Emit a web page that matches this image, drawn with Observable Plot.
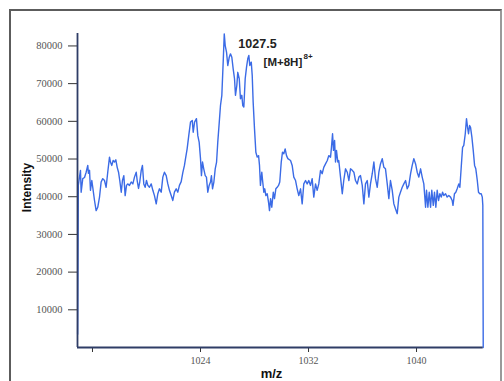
<!DOCTYPE html>
<html>
<head>
<meta charset="utf-8">
<script src="https://cdn.jsdelivr.net/npm/d3@7"></script>
<script src="https://cdn.jsdelivr.net/npm/@observablehq/plot@0.6"></script>
<style>
  html, body { margin: 0; padding: 0; background: #fff; }
  #wrap { position: relative; width: 504px; height: 381px; overflow: hidden; background: #fff; }
  #frame { position: absolute; left: 9px; top: 9px; width: 489px; height: 400px;
           border: 2px solid #5c5c5c; border-right-color: #9a9a9a; pointer-events: none; }
  #chart { position: absolute; left: 0; top: 0; }
  #chart g[aria-label="y-axis tick label"] text,
  #chart g[aria-label="x-axis tick label"] text { font-family: 'Liberation Serif', 'Times New Roman', serif !important; }
  #chart g[aria-label="y-axis tick label"],
  #chart g[aria-label="x-axis tick label"] { font-family: 'Liberation Serif', 'Times New Roman', serif !important; }
</style>
</head>
<body>
<div id="wrap"><div id="chart"></div><div id="frame"></div></div>
<script>
// m/z values (x)
const mz = [
  1014.90,1014.95,1015.11,1015.16,1015.28,1015.41,1015.53,1015.65,1015.70,1015.78,
  1015.85,1015.95,1016.02,1016.15,1016.27,1016.39,1016.52,1016.64,1016.76,1016.89,
  1017.01,1017.13,1017.26,1017.33,1017.43,1017.53,1017.63,1017.73,1017.83,1017.93,
  1018.02,1018.13,1018.22,1018.32,1018.42,1018.52,1018.61,1018.74,1018.87,1018.99,
  1019.11,1019.24,1019.31,1019.41,1019.50,1019.61,1019.70,1019.80,1019.90,1020.00,
  1020.10,1020.22,1020.35,1020.47,1020.59,1020.72,1020.84,1020.96,1021.09,1021.21,
  1021.33,1021.46,1021.58,1021.70,1021.83,1021.95,1022.07,1022.20,1022.32,1022.44,
  1022.57,1022.69,1022.81,1022.89,1023.01,1023.13,1023.26,1023.39,1023.46,1023.56,
  1023.70,1023.80,1023.90,1024.00,1024.07,1024.15,1024.24,1024.35,1024.44,1024.54,
  1024.64,1024.74,1024.81,1024.89,1024.99,1025.09,1025.19,1025.28,1025.39,1025.48,
  1025.58,1025.68,1025.76,1025.83,1025.93,1026.02,1026.13,1026.22,1026.32,1026.42,
  1026.52,1026.59,1026.69,1026.76,1026.87,1026.96,1027.06,1027.13,1027.21,1027.31,
  1027.41,1027.50,1027.58,1027.65,1027.76,1027.83,1027.90,1028.00,1028.10,1028.20,
  1028.30,1028.37,1028.44,1028.54,1028.61,1028.69,1028.76,1028.84,1028.94,1029.04,
  1029.11,1029.19,1029.28,1029.39,1029.48,1029.58,1029.68,1029.78,1029.87,1029.98,
  1030.07,1030.17,1030.27,1030.37,1030.47,1030.67,1030.79,1030.91,1031.04,1031.16,
  1031.28,1031.41,1031.53,1031.65,1031.78,1031.90,1032.02,1032.15,1032.27,1032.39,
  1032.52,1032.64,1032.76,1032.89,1033.01,1033.13,1033.26,1033.39,1033.50,1033.63,
  1033.70,1033.78,1033.85,1033.93,1034.00,1034.07,1034.17,1034.24,1034.37,1034.50,
  1034.61,1034.74,1034.87,1034.99,1035.11,1035.24,1035.36,1035.48,1035.61,1035.73,
  1035.85,1035.98,1036.10,1036.22,1036.35,1036.47,1036.59,1036.72,1036.84,1036.96,
  1037.09,1037.21,1037.33,1037.46,1037.58,1037.70,1037.83,1037.95,1038.07,1038.20,
  1038.32,1038.44,1038.57,1038.69,1038.81,1038.94,1039.06,1039.19,1039.31,1039.43,
  1039.56,1039.68,1039.80,1039.93,1040.05,1040.17,1040.30,1040.42,1040.54,1040.67,
  1040.74,1040.84,1040.94,1041.04,1041.13,1041.24,1041.33,1041.43,1041.53,1041.63,
  1041.73,1041.83,1041.93,1042.02,1042.15,1042.27,1042.39,1042.52,1042.64,1042.70,
  1042.81,1042.91,1043.01,1043.13,1043.21,1043.31,1043.41,1043.50,1043.61,1043.70,
  1043.78,1043.85,1043.93,1044.00,1044.10,1044.20,1044.30,1044.39,1044.50,1044.59,
  1044.69,1044.79,1044.87,1044.91,1044.94
];
// intensity values (y), same order as mz
const intensity = [
  3500,43000,47000,41200,44800,45100,46500,48300,46200,47000,
  41700,44300,42500,39000,36300,37200,39900,43900,44800,44300,
  42500,46500,50500,49200,48300,49600,49200,49800,47800,46500,
  44300,41200,44300,45600,40300,43000,43400,43000,43900,43400,
  45200,46500,44300,42200,43900,47000,48300,43400,42500,44300,
  43000,42500,43400,41700,40300,38100,40800,42100,41200,45200,
  46500,45600,43400,41700,40300,39000,41200,42100,41200,43000,
  44000,46400,48300,50100,52700,56200,59800,60200,57100,59800,
  60700,56200,54500,50100,45600,49200,47400,45600,45200,41200,
  43000,43900,45600,42100,43900,47400,49200,54500,59800,64200,
  66900,75700,83200,80100,78300,74800,77000,77900,77000,73900,
  71300,66900,69500,73000,71300,66000,66900,64200,63800,71300,
  74400,76600,77500,74800,75700,72200,65100,58000,51800,50500,
  50900,48300,43000,46500,43900,41200,42100,40300,40800,38500,
  36300,39500,37200,41200,39500,42100,42500,43000,43900,49200,
  51800,51400,52700,50900,50100,49600,48300,45200,44300,42100,
  40300,42100,38100,43400,44300,43400,44300,43000,44800,39900,
  43400,41700,43400,47000,46100,47800,48700,49600,50900,50500,
  53100,56700,52300,54900,49200,52300,49200,49600,45200,40800,
  44300,47400,46500,44300,47400,47000,46500,44300,43400,45200,
  45600,43000,38100,43400,44300,39900,43400,46100,49200,44800,
  42500,46500,48700,50100,47800,47400,43400,39500,44300,41700,
  38100,36800,35500,39900,41200,42500,43400,44300,42100,43000,
  46100,48300,50100,48700,46500,45200,47400,45200,43400,37200,
  41700,37200,41200,37200,41700,37700,41200,37200,41700,39000,
  40800,39900,41200,40300,40800,39900,40300,39900,39000,37700,
  40800,41200,42100,43400,42500,47800,53100,53600,56700,60700,
  58400,56700,58900,58400,55800,52300,48300,47400,44300,41200,
  40800,40800,39900,37700,0
];
// axis ticks
const yTicks = [10000, 20000, 30000, 40000, 50000, 60000, 70000, 80000];
const xTicks = [1016, 1024, 1032, 1040];
const xTickLabels = ["", "1024", "1032", "1040"];
const xDomain = [1014.89, 1044.96];
const yDomain = [0, 83300];
// annotation
const peakLabel = ["1027.5"];
const peakLabelMz = [1028.22];
const peakLabelInt = [80600];
const ionLabel = ["[M+8H]"];
const ionCharge = ["8+"];
const ionLabelMz = [1028.67];
const ionLabelInt = [75600];

const data = mz.map((m, i) => ({mz: m, intensity: intensity[i]}));
const xLabelMap = new Map(xTicks.map((t, i) => [t, xTickLabels[i]]));
const axisColor = "#2f3d66";
const sans = "'Liberation Sans', Arial, sans-serif";
const serif = "'Liberation Serif', 'Times New Roman', serif";

const chart = Plot.plot({
  width: 504,
  height: 381,
  marginLeft: 77,
  marginRight: 21,
  marginTop: 33,
  marginBottom: 34,
  style: {background: "transparent", fontFamily: serif, overflow: "visible"},
  x: {domain: xDomain},
  y: {domain: yDomain},
  marks: [
    Plot.axisY({ticks: yTicks, tickSize: 9, tickPadding: 6, tickFormat: d3.format("d"),
      fontSize: 10.5, fontFamily: serif, fill: "#555", stroke: "#333", label: null}),
    Plot.axisX({ticks: xTicks, tickSize: 5, tickPadding: 4, tickFormat: d => xLabelMap.get(d),
      fontSize: 10, fontFamily: serif, fill: "#555", stroke: "#333", label: null}),
    Plot.line(data, {x: "mz", y: "intensity", stroke: "#3b6be6", strokeWidth: 1.4}),
    Plot.ruleX([xDomain[0]], {stroke: axisColor, strokeWidth: 1.8}),
    Plot.ruleY([0], {stroke: axisColor, strokeWidth: 1.8, x1: xDomain[0], x2: mz[mz.length - 1]}),
    Plot.text(peakLabel, {x: peakLabelMz, y: peakLabelInt, text: d => d, fontSize: 12.5,
      fontWeight: "bold", fontFamily: sans, fill: "#222", textAnchor: "middle"}),
    Plot.text(ionLabel, {x: ionLabelMz, y: ionLabelInt, text: d => d, fontSize: 11.5,
      fontWeight: "bold", fontFamily: sans, fill: "#222", textAnchor: "start"}),
    Plot.text(ionCharge, {x: ionLabelMz, y: ionLabelInt, text: d => d, fontSize: 8,
      fontWeight: "bold", fontFamily: sans, fill: "#222", textAnchor: "start", dx: 40, dy: -6}),
    Plot.text(["Intensity"], {frameAnchor: "left", text: d => d, dx: -50, dy: -3, rotate: -90,
      textAnchor: "middle", lineAnchor: "middle", fontSize: 12, fontWeight: "bold", fontFamily: sans, fill: "#111"}),
    Plot.text(["m/z"], {frameAnchor: "bottom", text: d => d, dx: -9, dy: 26,
      textAnchor: "middle", lineAnchor: "middle", fontSize: 13, fontWeight: "bold", fontFamily: sans, fill: "#111"})
  ]
});
document.getElementById("chart").appendChild(chart);
</script>
</body>
</html>
